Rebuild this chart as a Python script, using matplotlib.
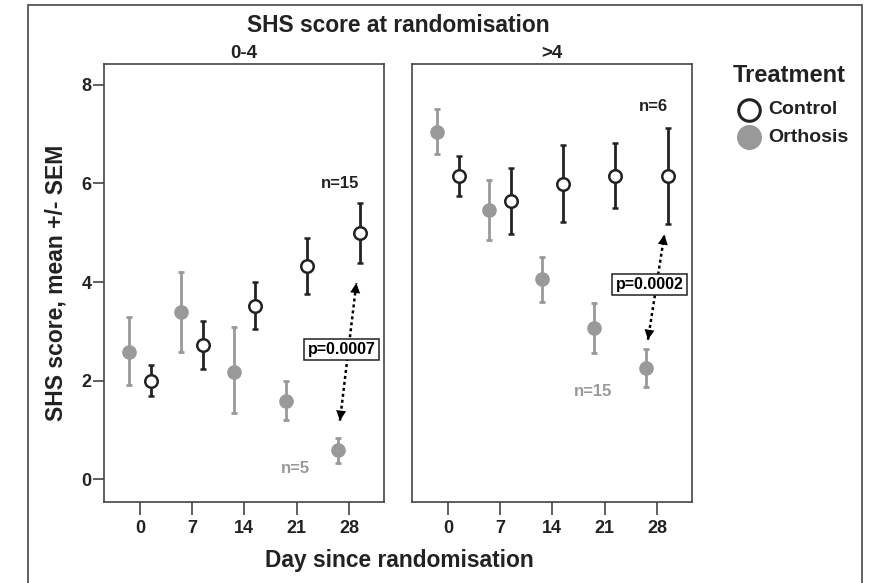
import matplotlib
matplotlib.use("Agg")
import matplotlib.pyplot as plt
from matplotlib.patches import Rectangle
from matplotlib.lines import Line2D
import numpy as np

# ---------------- data ----------------
days = [0, 7, 14, 21, 28]
day_ticks = ["0", "7", "14", "21", "28"]
y_ticks = [0, 2, 4, 6, 8]
panels = ["0-4", ">4"]
groups = ["Control", "Orthosis"]

# SHS score 0-4 at randomisation
orth_a_mean = [2.59, 3.39, 2.18, 1.59, 0.59]
orth_a_lo = [1.91, 2.58, 1.34, 1.20, 0.34]
orth_a_hi = [3.29, 4.21, 3.08, 1.99, 0.84]
ctrl_a_mean = [1.99, 2.72, 3.52, 4.33, 4.99]
ctrl_a_lo = [1.68, 2.24, 3.04, 3.75, 4.38]
ctrl_a_hi = [2.32, 3.21, 4.01, 4.90, 5.61]

# SHS score >4 at randomisation
orth_b_mean = [7.05, 5.45, 4.06, 3.06, 2.25]
orth_b_lo = [6.60, 4.85, 3.60, 2.56, 1.88]
orth_b_hi = [7.51, 6.06, 4.50, 3.57, 2.64]
ctrl_b_mean = [6.15, 5.65, 5.99, 6.15, 6.15]
ctrl_b_lo = [5.75, 4.98, 5.21, 5.50, 5.18]
ctrl_b_hi = [6.56, 6.32, 6.77, 6.82, 7.13]

p_values = ["p=0.0007", "p=0.0002"]
n_ctrl = ["n=15", "n=6"]
n_orth = ["n=5", "n=15"]

# ---------------- style ----------------
FONT = ["Liberation Sans", "DejaVu Sans"]
plt.rcParams["font.family"] = FONT
GREY = "#999999"
DARK = "#222222"
SPINE = "#444444"
DODGE = 1.45

fig = plt.figure(figsize=(8.74, 5.83), dpi=100)

W, H = 874.0, 583.0
def fx(px):
    return px / W
def fy(py):
    return 1 - py / H

# outer frame
fig.add_artist(Rectangle((fx(28), fy(590)), fx(862) - fx(28), fy(5) - fy(590),
                         transform=fig.transFigure, fill=False,
                         edgecolor="#555555", lw=1.3))

ax_pos = [(104, 384), (412, 692)]
top_px, bot_px = 64, 501.7

data = [
    (orth_a_mean, orth_a_lo, orth_a_hi, ctrl_a_mean, ctrl_a_lo, ctrl_a_hi),
    (orth_b_mean, orth_b_lo, orth_b_hi, ctrl_b_mean, ctrl_b_lo, ctrl_b_hi),
]
n_ctrl_pos = [(26.8, 6.0), (27.6, 7.56)]
n_orth_pos = [(20.9, 0.22), (19.4, 1.79)]
gaps = [(0.35, 0.40), (0.19, 0.22)]

axes = []
for i, (l, r) in enumerate(ax_pos):
    ax = fig.add_axes([fx(l), fy(bot_px), fx(r) - fx(l), fy(top_px) - fy(bot_px)])
    axes.append(ax)
    om, olo, ohi, cm, clo, chi = data[i]
    d = np.array(days, dtype=float)
    xo = d - DODGE
    xc = d + DODGE
    om, olo, ohi = map(np.array, (om, olo, ohi))
    cm, clo, chi = map(np.array, (cm, clo, chi))
    ax.errorbar(xo, om, yerr=[om - olo, ohi - om], fmt="o", color=GREY,
                ecolor=GREY, elinewidth=2.0, capsize=2.5, capthick=2.0,
                markersize=9.5, markerfacecolor=GREY, markeredgecolor=GREY,
                zorder=3)
    ax.errorbar(xc, cm, yerr=[cm - clo, chi - cm], fmt="o", color=DARK,
                ecolor=DARK, elinewidth=2.0, capsize=2.5, capthick=2.0,
                markersize=9.0, markerfacecolor="white", markeredgecolor=DARK,
                markeredgewidth=1.8, zorder=4)

    ax.set_xlim(-4.8, 32.7)
    ax.set_ylim(-0.454, 8.42)
    ax.set_xticks(days)
    ax.set_xticklabels(day_ticks, fontsize=13, fontweight="bold",
                       color="#222222")
    ax.tick_params(axis="x", direction="out", length=9.5, width=1.2,
                   color=SPINE, pad=4)
    ax.set_yticks(y_ticks)
    if i == 0:
        ax.set_yticklabels([str(v) for v in y_ticks], fontsize=13,
                           fontweight="bold", color="#222222")
        ax.tick_params(axis="y", direction="out", length=8, width=1.2,
                       color=SPINE, pad=1)
    else:
        ax.tick_params(axis="y", left=False, labelleft=False)
    for s in ax.spines.values():
        s.set_color(SPINE)
        s.set_linewidth(1.2)

    ax.set_title(panels[i], fontsize=13.5, fontweight="bold", pad=4,
                 color="#222222")

    # n labels
    ax.text(*n_ctrl_pos[i], n_ctrl[i], ha="center", va="center",
            fontsize=12, fontweight="bold", color=DARK)
    ax.text(*n_orth_pos[i], n_orth[i], ha="center", va="center",
            fontsize=12, fontweight="bold", color=GREY)

    # dotted double arrow between day-28 groups
    g_lo, g_hi = gaps[i]
    p0 = (xo[-1] + 0.25, ohi[-1] + g_lo)
    p1 = (xc[-1] - 0.45, clo[-1] - g_hi)
    ax.plot([p0[0], p1[0]], [p0[1], p1[1]], ls=(0, (1.2, 1.2)),
            color="black", lw=1.8, zorder=2)
    vec = np.array(p1) - np.array(p0)
    for tip, sgn in ((p0, -1), (p1, 1)):
        start = np.array(tip) - sgn * vec * 0.14
        ax.annotate("", xy=tip, xytext=tuple(start),
                    arrowprops=dict(arrowstyle="-|>", color="black", lw=0,
                                    mutation_scale=18, shrinkA=0, shrinkB=0),
                    zorder=3)
    mid = ((p0[0] + p1[0]) / 2 - 0.9, (p0[1] + p1[1]) / 2 + 0.05)
    ax.text(*mid, p_values[i], ha="center", va="center",
            fontsize=11.5, fontweight="bold", color="black", zorder=5,
            bbox=dict(boxstyle="square,pad=0.2", facecolor="white",
                      edgecolor="#222222", lw=1.1))

axes[0].set_ylabel("SHS score, mean +/- SEM", fontsize=16.5,
                   fontweight="bold", labelpad=10, color="#222222")

fig.text(fx(398), fy(25), "SHS score at randomisation", ha="center",
         va="center", fontsize=16.4, fontweight="bold", color="#222222")
fig.text(fx(399), fy(561), "Day since randomisation", ha="center",
         va="center", fontsize=16.4, fontweight="bold", color="#222222")

# legend (drawn manually to match placement)
fig.text(fx(733), fy(75), "Treatment", ha="left", va="center",
         fontsize=17, fontweight="bold", color="#222222")
legend_y = [110, 137]
legend_style = [
    dict(markerfacecolor="white", markeredgecolor=DARK, markeredgewidth=2.2,
         markersize=15.5),
    dict(markerfacecolor=GREY, markeredgecolor=GREY, markersize=17),
]
for label, ly, st in zip(groups, legend_y, legend_style):
    fig.add_artist(Line2D([fx(749)], [fy(ly)], transform=fig.transFigure,
                          ls="none", marker="o", **st))
    fig.text(fx(768), fy(ly), label, ha="left", va="center", fontsize=14,
             fontweight="bold", color="#222222")

fig.savefig("out.png", dpi=100)
